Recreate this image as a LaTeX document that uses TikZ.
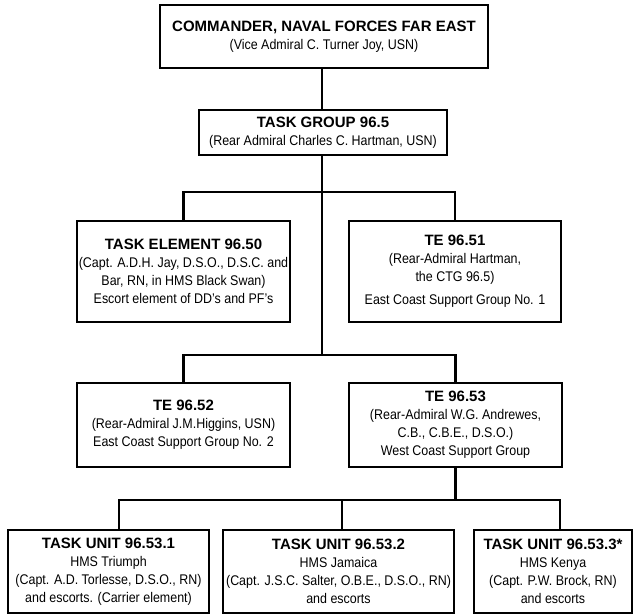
\documentclass[tikz,border=0pt]{standalone}
\usepackage{fontspec}
\setmainfont{Liberation Sans}[FakeStretch=0.89]
\newfontfamily\headfont{Liberation Sans}
\usetikzlibrary{positioning}

\newcommand{\unithead}[1]{{\headfont\bfseries\fontsize{15}{18}\selectfont #1}}

\begin{document}
\begin{tikzpicture}[x=1pt,y=-1pt,
        unit/.style={draw, line width=1.3pt, align=center, inner sep=0pt,
            font=\fontsize{14}{18}\selectfont},
        link/.style={line width=2.4pt}]
    \useasboundingbox (0,0) rectangle (635,616);

    \node[unit, minimum width=328pt, minimum height=63pt] (cnfe) at (324,36.5)
        {\unithead{COMMANDER, NAVAL FORCES FAR EAST}\\(Vice Admiral C. Turner Joy, USN)};
    \node[unit, minimum width=248pt, minimum height=45pt] (tg) at (323,132.5)
        {\unithead{TASK GROUP 96.5}\\(Rear Admiral Charles C. Hartman, USN)};

    \node[unit, minimum width=213pt, minimum height=101pt] (te50) at (183.5,271.5)
        {\unithead{TASK ELEMENT 96.50}\\(Capt. A.D.H. Jay, D.S.O., D.S.C. and\\Bar, RN, in HMS Black Swan)\\Escort element of DD's and PF's};
    \node[unit, minimum width=212pt, minimum height=101pt] (te51) at (455,271.5)
        {\unithead{TE 96.51}\\(Rear-Admiral Hartman,\\the CTG 96.5)\\[5pt]East Coast Support Group No. 1};

    \node[unit, minimum width=213pt, minimum height=84pt] (te52) at (183.5,425)
        {\unithead{TE 96.52}\\(Rear-Admiral J.M.Higgins, USN)\\East Coast Support Group No. 2};
    \node[unit, minimum width=213pt, minimum height=84pt] (te53) at (455.5,425)
        {\unithead{TE 96.53}\\(Rear-Admiral W.G. Andrewes,\\C.B., C.B.E., D.S.O.)\\West Coast Support Group};

    \node[unit, minimum width=201pt, minimum height=83pt] (tu1) at (108.5,571.5)
        {\unithead{TASK UNIT 96.53.1}\\HMS Triumph\\(Capt. A.D. Torlesse, D.S.O., RN)\\and escorts. (Carrier element)};
    \node[unit, minimum width=231pt, minimum height=83pt] (tu2) at (338.5,571.5)
        {\unithead{TASK UNIT 96.53.2}\\HMS Jamaica\\(Capt. J.S.C. Salter, O.B.E., D.S.O., RN)\\and escorts};
    \node[unit, minimum width=158pt, minimum height=83pt] (tu3) at (553,571.5)
        {\unithead{TASK UNIT 96.53.3*}\\HMS Kenya\\(Capt. P.W. Brock, RN)\\and escorts};

    % spine and buses
    \coordinate (spine) at (322,0);
    \coordinate (bus1) at (0,192);
    \coordinate (bus2) at (0,355);
    \coordinate (drop1) at (119,500);
    \coordinate (drop2) at (342,500);
    \coordinate (drop3) at (560,500);

    \draw[link] (spine |- cnfe.south) -- (spine |- tg.north);
    \draw[link] (spine |- tg.south) -- (spine |- bus2);
    \draw[link] (te50.north) -- (te50.north |- bus1) -- (te51.north |- bus1) -- (te51.north);
    \draw[link] (te52.north) -- (te52.north |- bus2) -- (te53.north |- bus2) -- (te53.north);
    \draw[link] (te53.south) -- (te53.south |- drop1);
    \draw[link] (tu1.north -| drop1) -- (drop1) -- (drop3) -- (tu3.north -| drop3);
    \draw[link] (drop2) -- (tu2.north -| drop2);
\end{tikzpicture}
\end{document}
